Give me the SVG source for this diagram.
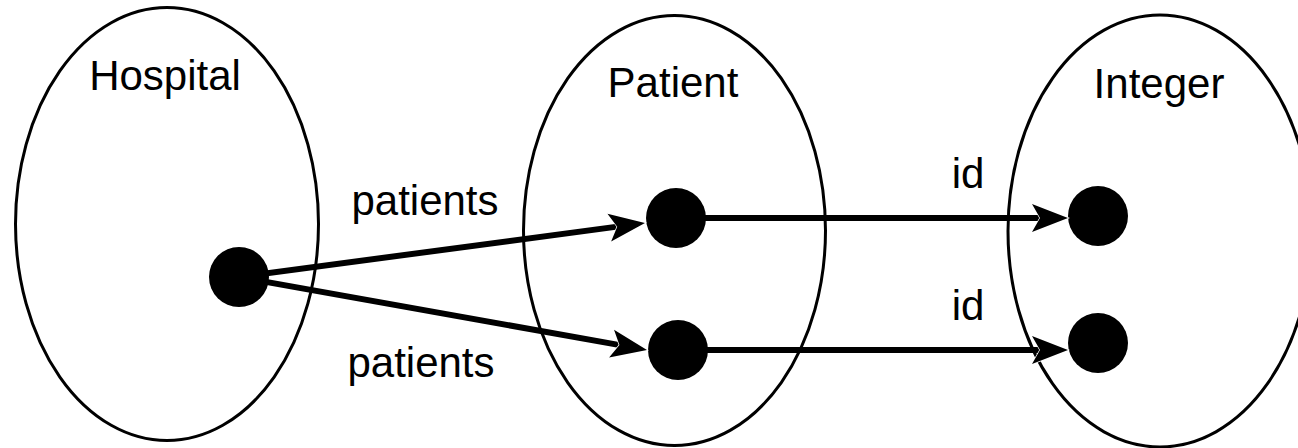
<svg xmlns="http://www.w3.org/2000/svg" width="1298" height="448" viewBox="0 0 1298 448">
  <style>
    .set { fill: none; stroke: #000; stroke-width: 3; }
    .obj { fill: #000; }
    .lbl { font-family: "Liberation Sans", Arial, sans-serif; font-size: 42px; fill: #000; text-anchor: middle; }
    .edge { stroke: #000; stroke-width: 6; fill: none; marker-end: url(#arrow); }
  </style>
  <defs>
    <!-- notched arrowhead; tip sits 26px past the line end -->
    <marker id="arrow" markerUnits="userSpaceOnUse" markerWidth="40" markerHeight="34" viewBox="-2 -2 40 34" refX="10" refY="15" orient="auto">
      <path d="M0,1 L36,15 L0,29 L8,15 Z" fill="#000" stroke="#fff" stroke-width="1.5" paint-order="stroke" stroke-linejoin="miter"/>
    </marker>
  </defs>
  <rect width="1298" height="448" fill="#fff"/>

  <g id="hospital">
    <ellipse class="set" cx="167" cy="224" rx="151.5" ry="216.5"/>
    <text class="lbl" x="165" y="90">Hospital</text>
    <circle class="obj" cx="239" cy="277" r="30"/>
  </g>

  <g id="patient">
    <ellipse class="set" cx="674.5" cy="230.5" rx="151" ry="215"/>
    <text class="lbl" x="673" y="97">Patient</text>
    <circle class="obj" cx="676" cy="218" r="30"/>
    <circle class="obj" cx="678" cy="350" r="30"/>
  </g>

  <g id="integer">
    <ellipse class="set" cx="1160" cy="231" rx="152" ry="216"/>
    <text class="lbl" x="1159" y="98">Integer</text>
    <circle class="obj" cx="1098" cy="216" r="30"/>
    <circle class="obj" cx="1098" cy="343" r="30"/>
  </g>

  <g id="connectors">
    <path class="edge" d="M239,277 L619.2,226.4"/>
    <path class="edge" d="M239,277 L621.4,345.4"/>
    <path class="edge" d="M676,218 L1042,218"/>
    <path class="edge" d="M678,350 L1042,350"/>
    <text class="lbl" x="425" y="215">patients</text>
    <text class="lbl" x="421" y="377">patients</text>
    <text class="lbl" x="968" y="188">id</text>
    <text class="lbl" x="968" y="320">id</text>
  </g>
</svg>
